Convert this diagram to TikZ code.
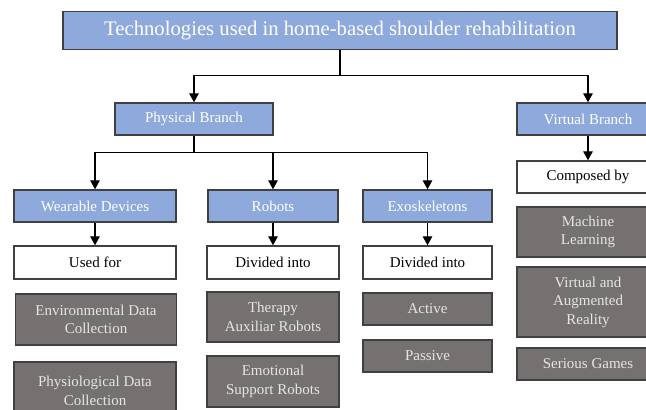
\documentclass[tikz,border=0pt]{standalone}
\usepackage{fontspec}
\setmainfont{Liberation Serif}
\usetikzlibrary{arrows.meta}

\definecolor{branchblue}{HTML}{8EA9DB}
\definecolor{leafgray}{HTML}{767171}

\tikzset{
  box/.style={draw=black!75, line width=1.4pt, inner sep=0pt, align=center,
    font=\fontsize{15}{18.5}\selectfont},
  head/.style={box, fill=branchblue, text=white},
  note/.style={box, fill=white, text=black},
  leaf/.style={box, fill=leafgray, text=white!90!black},
  link/.style={line width=1.3pt, -{Triangle[length=9pt,width=9.5pt]}},
}

\begin{document}
\begin{tikzpicture}[x=1pt,y=-1pt]
  \useasboundingbox (0,0) rectangle (646,410);

  % root
  \node[head, minimum width=554, minimum height=38,
    font=\fontsize{20.7}{24}\selectfont] (root) at (340,30.5)
    {Technologies used in home-based shoulder rehabilitation};

  % branches
  \node[head, minimum width=158, minimum height=32] (phys) at (194,119) {Physical Branch};
  \node[head, minimum width=142, minimum height=32] (virt) at (588,119) {Virtual Branch};

  % physical branch
  \node[head, minimum width=162, minimum height=32] (wear) at (95,206) {Wearable Devices};
  \node[head, minimum width=130, minimum height=32] (robots) at (273,206) {Robots};
  \node[head, minimum width=129, minimum height=32] (exo) at (427.5,206) {Exoskeletons};

  \node[note, minimum width=162, minimum height=33] (usedfor) at (95,262.5) {Used for};
  \node[note, minimum width=132, minimum height=33] (divrob) at (273,262.5) {Divided into};
  \node[note, minimum width=129, minimum height=33] (divexo) at (427.5,262.5) {Divided into};

  \node[leaf, minimum width=161, minimum height=51] (envdata) at (96,319.5) {Environmental Data\\Collection};
  \node[leaf, minimum width=162, minimum height=58] (physdata) at (95,391) {Physiological Data\\Collection};
  \node[leaf, minimum width=132, minimum height=50] (therapy) at (273,317) {Therapy\\Auxiliar Robots};
  \node[leaf, minimum width=132, minimum height=51] (emotion) at (273,381.5) {Emotional\\Support Robots};
  \node[leaf, minimum width=129, minimum height=32] (active) at (427.5,309) {Active};
  \node[leaf, minimum width=129, minimum height=32] (passive) at (427.5,356) {Passive};

  % virtual branch
  \node[note, minimum width=142, minimum height=32] (composed) at (588,177) {Composed by};
  \node[leaf, minimum width=142, minimum height=50] (ml) at (588,232) {Machine\\Learning};
  \node[leaf, minimum width=142, minimum height=70] (vr) at (588,302) {Virtual and\\Augmented\\Reality};
  \node[leaf, minimum width=142, minimum height=32] (games) at (588,364) {Serious Games};

  % connectors
  \draw[link] (root.south) -- ++(0,25) -| (phys.north);
  \draw[link] (root.south) -- ++(0,25) -| (virt.north);
  \draw[link] (phys.south) -- ++(0,17) -| (wear.north);
  \draw[link] (phys.south) -- ++(0,17) -| (robots.north);
  \draw[link] (phys.south) -- ++(0,17) -| (exo.north);
  \draw[link] (wear) -- (usedfor);
  \draw[link] (robots) -- (divrob);
  \draw[link] (exo) -- (divexo);
  \draw[link] (virt) -- (composed);
\end{tikzpicture}
\end{document}
